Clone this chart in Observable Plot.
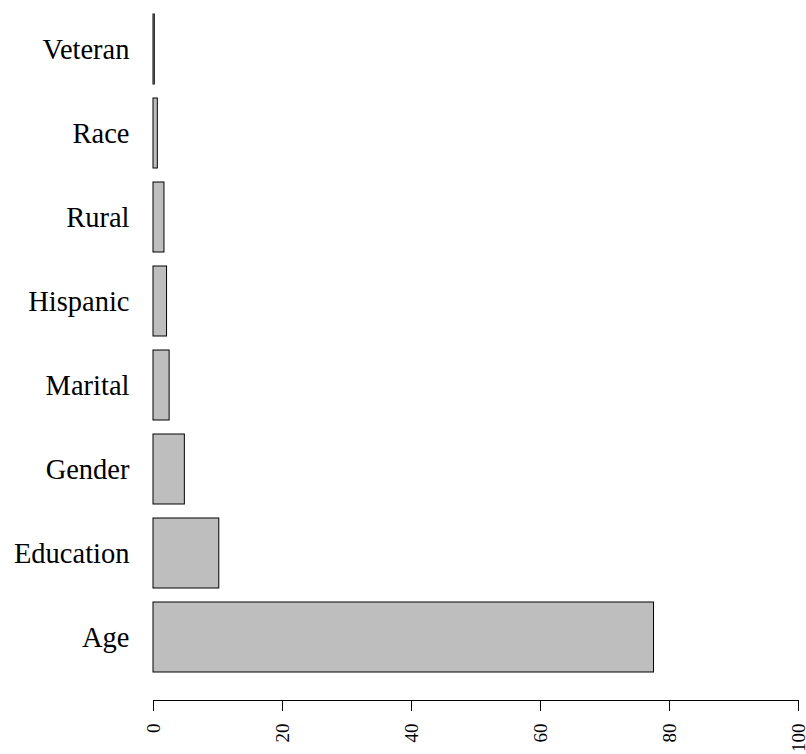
<!DOCTYPE html>
<html>
<head>
<meta charset="utf-8">
<script src="https://cdn.jsdelivr.net/npm/d3@7"></script>
<script src="https://cdn.jsdelivr.net/npm/@observablehq/plot@0.6"></script>
<style>
  html, body { margin: 0; padding: 0; background: #fff; }
  svg { font-family: "Liberation Serif", "Times New Roman", serif; }
</style>
</head>
<body>
<div id="chart"></div>
<script>
const categories = ["Veteran", "Race", "Rural", "Hispanic", "Marital", "Gender", "Education", "Age"];
const values = [0.2, 0.67, 1.7, 2.1, 2.5, 4.86, 10.2, 77.6];
const xTicks = [0, 20, 40, 60, 80, 100];

const data = categories.map((c, i) => ({category: c, value: values[i]}));

const chart = Plot.plot({
  width: 806,
  height: 754,
  marginLeft: 153,
  marginRight: 8,
  marginTop: 12,
  marginBottom: 54,
  style: {fontFamily: '"Liberation Serif", "Times New Roman", serif', background: "#fff", color: "#000", overflow: "visible"},
  x: {domain: [0, 100]},
  y: {domain: categories, range: [12.5, 674], paddingInner: 0.1667, paddingOuter: 0},
  marks: [
    Plot.barX(data, {x1: 0, x2: "value", y: "category", fill: "#bebebe", stroke: "#000", strokeWidth: 1}),
    Plot.frame({anchor: "bottom", stroke: "#000"}),
    Plot.axisX({ticks: xTicks, tickSize: 11, tickRotate: -90, tickPadding: 12, fontSize: 19, label: null, stroke: "#000"}),
    Plot.axisY({tickSize: 0, tickPadding: 24, fontSize: 28.5, label: null})
  ]
});
document.getElementById("chart").appendChild(chart);
</script>
</body>
</html>
